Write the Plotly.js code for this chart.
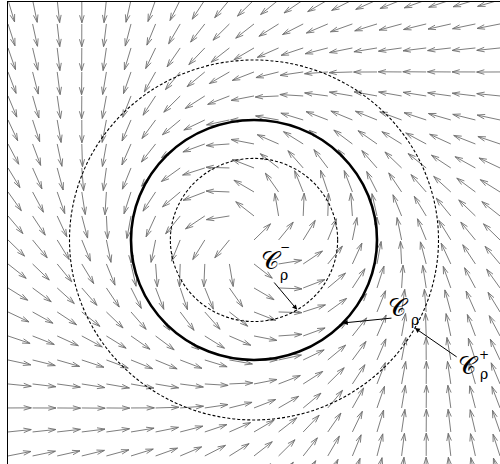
<!DOCTYPE html>
<html>
<head>
<meta charset="utf-8">
<script src="https://cdn.plot.ly/plotly-3.0.1.min.js"></script>
<style>
  html, body { margin: 0; padding: 0; background: #fff; }
  #plot { width: 500px; height: 464px; }
</style>
</head>
<body>
<div id="plot"></div>
<script>
// Sample points of the direction field (columns and rows)
const gridX = [-2.0, -1.8, -1.6, -1.4, -1.2, -1.0, -0.8, -0.6, -0.4, -0.2, 0.0,
               0.2, 0.4, 0.6, 0.8, 1.0, 1.2, 1.4, 1.6, 1.8, 2.0];
const gridY = [-2.0, -1.8, -1.6, -1.4, -1.2, -1.0, -0.8, -0.6, -0.4, -0.2, 0.0,
               0.2, 0.4, 0.6, 0.8, 1.0, 1.2, 1.4, 1.6, 1.8, 2.0];

// Radii of the three level circles
const rhoMinus = 0.68;
const rho = 1.0;
const rhoPlus = 1.5;

// Convergence gain of the guiding field
const gain = 1.0;

// Label anchors: [textX, textY, supX, supY, subX, subY, tailX, tailY, tipAngleDeg]
const labelMinus = [0.140, -0.175, 0.250, -0.060, 0.240, -0.290, 0.154, -0.342, -58.9];
const labelMid   = [1.175, -0.56, 1.29, -0.47, 1.305, -0.670, 1.13, -0.65, -43.8];
const labelPlus  = [1.745, -1.05, 1.866, -0.960, 1.872, -1.120, 1.66, -0.983, -29.3];

// Unit direction of the guiding vector field: rotation plus correction toward the circle
function direction(x, y) {
  const r = Math.hypot(x, y);
  // at the centre the normal is taken along +x
  const nx = r > 1e-9 ? x / r : 1;
  const ny = r > 1e-9 ? y / r : 0;
  const e = r - rho;
  const u = -ny - gain * e * nx;
  const v = nx - gain * e * ny;
  const m = Math.hypot(u, v);
  return [u / m, v / m];
}

// Quiver-style arrows (shaft + two barbs), all of one length
const arrowLen = 0.19;
const headLen = 0.33, headSpread = 0.30;
const ax = [], ay = [];
gridY.forEach(function (y) {
  gridX.forEach(function (x) {
    const d = direction(x, y);
    const U = arrowLen * d[0], V = arrowLen * d[1];
    const hx = x + U, hy = y + V;
    ax.push(x, hx, null);
    ay.push(y, hy, null);
    ax.push(hx - headLen * (U + headSpread * V), hx, hx - headLen * (U - headSpread * V), null);
    ay.push(hy - headLen * (V - headSpread * U), hy, hy - headLen * (V + headSpread * U), null);
  });
});

const arrows = {
  type: 'scatter', mode: 'lines', x: ax, y: ay,
  line: { color: '#6e6e6e', width: 0.9 },
  hoverinfo: 'skip', connectgaps: false
};

function circle(r, width, dash) {
  return {
    type: 'circle', xref: 'x', yref: 'y', x0: -r, y0: -r, x1: r, y1: r,
    line: { color: '#000', width: width, dash: dash }
  };
}

function label(spec, sup, circleR) {
  const a = spec[8] * Math.PI / 180;
  const font = { family: 'DejaVu Serif, Liberation Serif, serif', color: '#000' };
  const parts = [
    { x: spec[0], y: spec[1], xref: 'x', yref: 'y', text: '𝒞', showarrow: false,
      font: Object.assign({ size: 25 }, font) },
    { x: spec[4], y: spec[5], xref: 'x', yref: 'y', text: 'ρ', showarrow: false,
      font: Object.assign({ size: 14 }, font) },
    { x: circleR * Math.cos(a), y: circleR * Math.sin(a), xref: 'x', yref: 'y',
      ax: spec[6], ay: spec[7], axref: 'x', ayref: 'y', text: '', showarrow: true,
      arrowhead: 2, arrowsize: 1, arrowwidth: 1, arrowcolor: '#000' }
  ];
  if (sup) {
    parts.push({ x: spec[2], y: spec[3], xref: 'x', yref: 'y', text: sup, showarrow: false,
      font: Object.assign({ size: 12 }, font) });
  }
  return parts;
}

const layout = {
  width: 500, height: 464,
  margin: { l: 8, r: 0, t: 2, b: 0 },
  paper_bgcolor: '#fff', plot_bgcolor: '#fff',
  showlegend: false,
  xaxis: {
    range: [-2.0, 2.0], side: 'top', showline: true, linecolor: '#000', linewidth: 1.5,
    showgrid: false, zeroline: false, ticks: '', showticklabels: false, fixedrange: true
  },
  yaxis: {
    range: [-1.867, 1.983], showline: true, linecolor: '#000', linewidth: 1.5,
    showgrid: false, zeroline: false, ticks: '', showticklabels: false, fixedrange: true
  },
  shapes: [
    circle(rhoMinus, 1.1, '3px,2px'),
    circle(rho, 2.6, 'solid'),
    circle(rhoPlus, 1.1, '3px,2px')
  ],
  annotations: [].concat(
    label(labelMinus, '−', rhoMinus),
    label(labelMid, '', rho),
    label(labelPlus, '+', rhoPlus)
  )
};

Plotly.newPlot('plot', [arrows], layout, { staticPlot: true, displayModeBar: false });
</script>
</body>
</html>
